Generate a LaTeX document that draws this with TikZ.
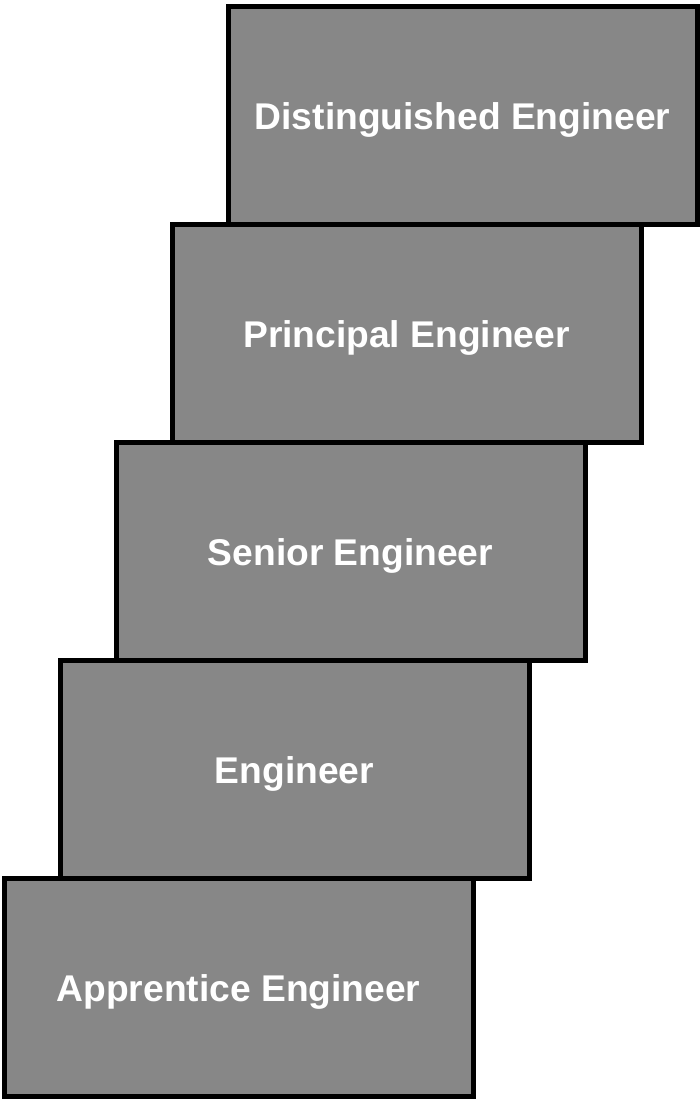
\documentclass[tikz,border=0pt]{standalone}
\usepackage{fontspec}
\setmainfont{Liberation Sans}
\usepackage{tikz}
\usetikzlibrary{positioning}
\definecolor{stepgray}{HTML}{878787}
\tikzset{
    stepbox/.style={draw=black, line width=2.5pt, fill=stepgray, text=white, align=center, font=\fontsize{18.6}{22}\selectfont\bfseries, text height=13.3pt, text depth=0pt, minimum width=234.5pt, minimum height=109pt, inner sep=0pt, outer sep=0pt},
}

\begin{document}
\begin{tikzpicture}[x=1pt, y=1pt]
        \useasboundingbox (0,0) rectangle (350,550);
        \node[stepbox, anchor=south west] (apprentice) at (2,1.5) {Apprentice Engineer};
        \node[stepbox, above=0pt of apprentice, xshift=28pt] (engineer) {Engineer};
        \node[stepbox, above=0pt of engineer, xshift=28pt] (senior) {Senior Engineer};
        \node[stepbox, above=0pt of senior, xshift=28pt] (principal) {Principal Engineer};
        \node[stepbox, above=0pt of principal, xshift=28pt] (distinguished) {Distinguished Engineer};
    \end{tikzpicture}
\end{document}
